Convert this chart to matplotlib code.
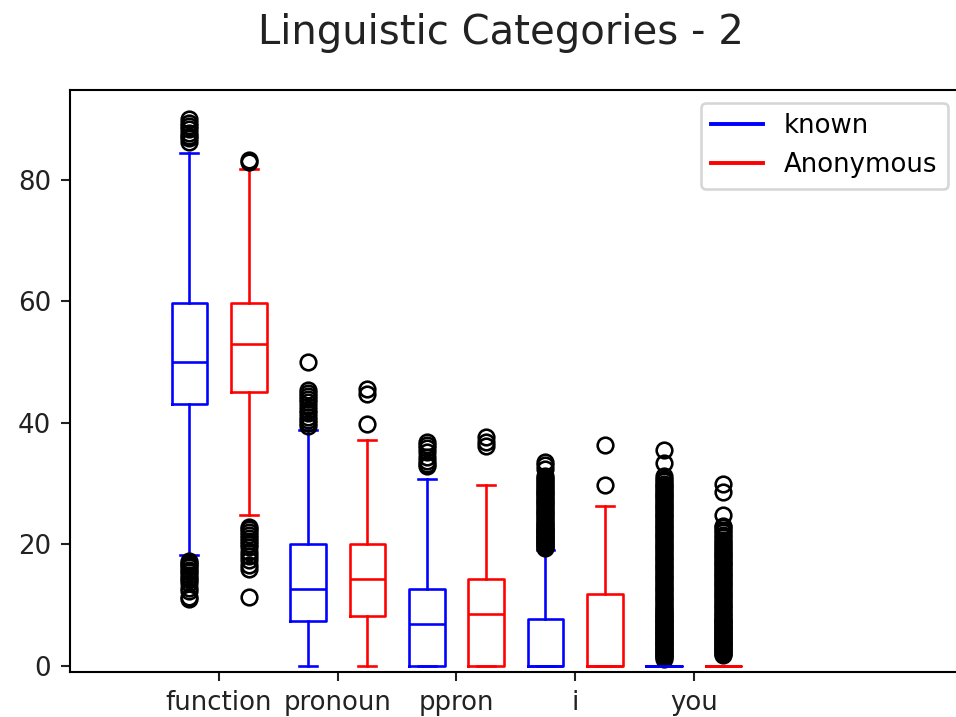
import numpy as np
import matplotlib
matplotlib.use('Agg')
import matplotlib.pyplot as plt

# categories on the x axis
categories = ['function', 'pronoun', 'ppron', 'i', 'you']

# box statistics: [function, pronoun, ppron, i, you]
known_med = [50.0, 12.6, 6.9, 0.0, 0.0]
known_q1 = [43.1, 7.4, 0.0, 0.0, 0.0]
known_q3 = [59.8, 20.0, 12.6, 7.8, 0.0]
known_lo = [18.3, 0.0, 0.0, 0.0, 0.0]
known_hi = [84.4, 38.9, 30.7, 19.0, 0.0]

anon_med = [53.0, 14.3, 8.6, 0.0, 0.0]
anon_q1 = [45.1, 8.2, 0.0, 0.0, 0.0]
anon_q3 = [59.8, 20.0, 14.3, 11.8, 0.0]
anon_lo = [24.9, 0.0, 0.0, 0.0, 0.0]
anon_hi = [81.8, 37.2, 29.8, 26.3, 0.0]

# outliers
known_fliers = [
    [90.0, 89.3, 88.9, 88.4, 87.8, 87.3, 86.9, 86.2,
     17.3, 17.0, 16.6, 16.2, 15.8, 15.4, 15.0, 14.5, 14.1, 13.6, 12.9, 12.3, 11.4, 11.0],
    [50.1, 45.4, 44.9, 44.4, 43.9, 43.4, 42.8, 42.2, 41.6, 41.0, 40.5, 40.0, 39.5],
    [36.9, 36.4, 35.8, 35.2, 34.4, 33.7, 33.2, 32.9],
    [19.4, 19.6, 19.8, 20.0, 20.2, 20.4, 20.6, 20.8, 21.0, 21.2, 21.4, 21.6, 21.8,
     22.0, 22.2, 22.4, 22.6, 22.8, 23.0, 23.3, 23.6, 23.9, 24.2, 24.5, 24.8, 25.1,
     25.4, 25.7, 26.0, 26.3, 26.6, 26.9, 27.2, 27.5, 27.8, 28.1, 28.4, 28.7, 29.0,
     29.3, 29.6, 29.9, 30.2, 30.6, 31.0, 31.3, 32.4, 33.0, 33.6],
    [1.2, 1.4, 1.6, 1.8, 2.0, 2.2, 2.4, 2.6, 2.8, 3.0, 3.2, 3.4, 3.6, 3.8, 4.0,
     4.2, 4.4, 4.6, 4.8, 5.0, 5.2, 5.4, 5.6, 5.8, 6.0, 6.2, 6.4, 6.6, 6.8, 7.0,
     7.2, 7.4, 7.6, 7.8, 8.0, 8.2, 8.4, 8.6, 8.8, 9.0, 9.3, 9.6, 9.9, 10.2, 10.5,
     10.8, 11.1, 11.4, 11.7, 12.0, 12.3, 12.6, 12.9, 13.2, 13.5, 13.8, 14.1, 14.4,
     14.7, 15.0, 15.3, 15.6, 15.9, 16.2, 16.5, 16.8, 17.1, 17.4, 17.7, 18.0, 18.3,
     18.6, 18.9, 19.2, 19.5, 19.8, 20.1, 20.4, 20.7, 21.0, 21.3, 21.6, 21.9, 22.2,
     22.5, 22.8, 23.1, 23.4, 23.7, 24.0, 24.3, 24.6, 24.9, 25.2, 25.5, 25.8, 26.1,
     26.4, 26.7, 27.0, 27.3, 27.6, 27.9, 28.2, 28.5, 28.8, 29.1, 29.4, 29.7, 30.0,
     30.4, 30.8, 31.2, 33.4, 35.6],
]
anon_fliers = [
    [83.0, 83.3,
     22.9, 22.5, 22.1, 21.6, 21.0, 20.5, 20.1, 19.5, 18.8, 18.1, 17.4, 16.6, 16.0, 11.3],
    [45.6, 44.7, 39.9],
    [37.6, 36.9, 36.2],
    [29.8, 36.4],
    [1.8, 2.0, 2.2, 2.4, 2.6, 2.8, 3.0, 3.2, 3.4, 3.6, 3.8, 4.0, 4.2, 4.4, 4.6,
     4.8, 5.0, 5.2, 5.4, 5.6, 5.8, 6.0, 6.2, 6.4, 6.6, 6.8, 7.0, 7.2, 7.4, 7.6,
     7.8, 8.0, 8.3, 8.6, 8.9, 9.2, 9.5, 9.8, 10.1, 10.4, 10.7, 11.0, 11.3, 11.6,
     11.9, 12.2, 12.5, 12.8, 13.1, 13.4, 13.7, 14.0, 14.3, 14.6, 14.9, 15.2, 15.5,
     15.8, 16.1, 16.4, 16.7, 17.0, 17.3, 17.6, 17.9, 18.2, 18.5, 18.8, 19.1, 19.4,
     19.7, 20.0, 20.4, 20.8, 21.2, 21.6, 22.0, 22.4, 22.8, 23.1,
     24.9, 28.6, 30.0],
]


def make_stats(med, q1, q3, lo, hi, fliers):
    stats = []
    for i in range(len(med)):
        stats.append({'med': med[i], 'q1': q1[i], 'q3': q3[i],
                      'whislo': lo[i], 'whishi': hi[i], 'fliers': fliers[i]})
    return stats


def set_box_color(bp, color):
    plt.setp(bp['boxes'], color=color)
    plt.setp(bp['whiskers'], color=color)
    plt.setp(bp['caps'], color=color)
    plt.setp(bp['medians'], color=color)


DPI = 187.5
fig = plt.figure(figsize=(956 / DPI, 717 / DPI), dpi=DPI)
ax = fig.add_axes([0.0727, 0.0628, 0.9323, 0.8117])

flier_style = dict(marker='o', markerfacecolor='none', markeredgecolor='black')
base = np.arange(len(categories)) * 2.0

bpl = ax.bxp(make_stats(known_med, known_q1, known_q3, known_lo, known_hi, known_fliers),
             positions=base - 0.5, widths=0.6, flierprops=flier_style)
bpr = ax.bxp(make_stats(anon_med, anon_q1, anon_q3, anon_lo, anon_hi, anon_fliers),
             positions=base + 0.5, widths=0.6, flierprops=flier_style)
set_box_color(bpl, 'blue')
set_box_color(bpr, 'red')

ax.plot([], c='blue', label='known')
ax.plot([], c='red', label='Anonymous')
ax.legend(loc='upper right')

ax.set_xticks(base)
ax.set_xticklabels(categories)
ax.set_xlim(-2.52, 12.5)
ax.set_ylim(-1.0, 94.8)
ax.set_yticks([0, 20, 40, 60, 80])
ax.tick_params(colors='#222222')

fig.text(0.524, 0.954, 'Linguistic Categories - 2', ha='center', va='center',
         fontsize=15.4, color='#222222')

fig.savefig('out.png', dpi=DPI)
